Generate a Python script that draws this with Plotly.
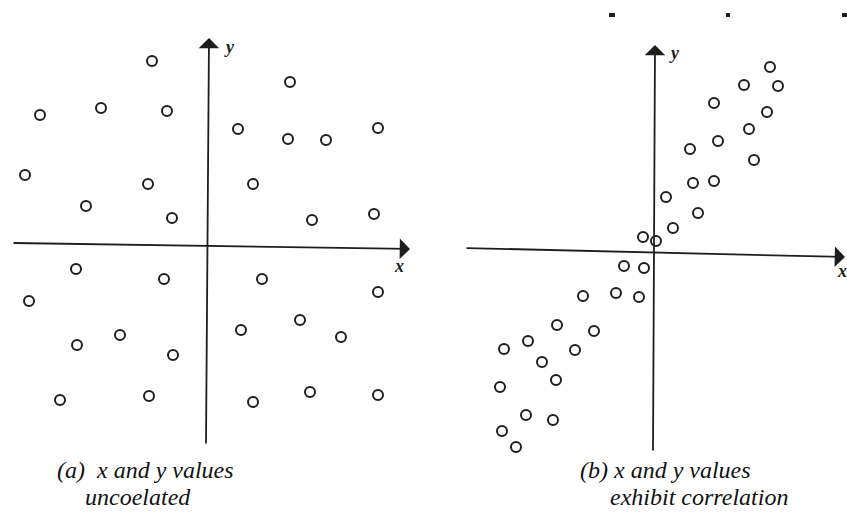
import plotly.graph_objects as go

# (a) uncorrelated x/y values, measured from the axis origin
uncorr_x = [-5.6, -16.8, -10.7, -4.1, 8.2, 3.0, 8.0, 11.8, 17.0, -18.3, -6.0,
            -12.2, -3.6, 4.5, 10.4, 16.6, -13.2, -4.4, -17.9, -13.1, -8.8,
            -3.5, -14.8, -5.9, 5.4, 17.0, 3.3, 9.2, 13.3, 4.5, 10.2, 17.0]
uncorr_y = [18.3, 12.9, 13.6, 13.3, 16.2, 11.5, 10.5, 10.4, 11.6, 6.9, 6.0,
            3.8, 2.6, 6.0, 2.4, 3.0, -2.5, -3.5, -5.7, -10.1, -9.1,
            -11.1, -15.6, -15.2, -3.5, -4.8, -8.6, -7.6, -9.3, -15.8, -14.8, -15.1]

# (b) correlated x/y values
corr_x = [11.5, 8.9, 12.3, 5.9, 11.2, 9.4, 6.3, 3.5, 9.9, 3.8, 5.9, 1.1, 4.3,
          1.8, -1.2, 0.1, -3.1, -1.1, -7.2, -3.9, -1.6, -9.8, -6.1, -12.7,
          -15.1, -8.0, -11.3, -9.9, -15.5, -12.9, -10.2, -15.3, -13.9]
corr_y = [18.4, 16.6, 16.5, 14.8, 13.9, 12.2, 11.0, 10.2, 9.1, 6.8, 7.0, 5.4,
          3.8, 2.3, 1.4, 1.0, -1.5, -1.7, -4.5, -4.2, -4.6, -7.4, -8.0, -9.0,
          -9.8, -9.9, -11.1, -12.9, -13.6, -16.4, -16.9, -18.0, -19.6]

captions = [["(a)  x and y values", "uncoelated"],
            ["(b) x and y values", "exhibit correlation"]]

INK = "#1e1e1e"
SERIF = "Liberation Serif, Times New Roman, serif"

fig = go.Figure()

marker = dict(symbol="circle", size=10, color="white",
              line=dict(color=INK, width=2))

fig.add_trace(go.Scatter(x=uncorr_x, y=uncorr_y, mode="markers",
                         marker=marker, xaxis="x", yaxis="y",
                         showlegend=False, hoverinfo="x+y"))
fig.add_trace(go.Scatter(x=corr_x, y=corr_y, mode="markers",
                         marker=marker, xaxis="x2", yaxis="y2",
                         showlegend=False, hoverinfo="x+y"))

hidden = dict(showgrid=False, zeroline=False, showticklabels=False,
              ticks="", showline=False, fixedrange=True)

fig.update_layout(
    width=847, height=512,
    margin=dict(l=0, r=0, t=0, b=0),
    paper_bgcolor="white", plot_bgcolor="rgba(0,0,0,0)",
    xaxis=dict(domain=[0, 0.5], range=[-20.8, 21.55], **hidden),
    yaxis=dict(domain=[0, 1], range=[-26.8, 24.4], **hidden),
    xaxis2=dict(domain=[0.5, 1], range=[-23.15, 19.2], **hidden),
    yaxis2=dict(domain=[0, 1], range=[-26.1, 25.1], anchor="x2", **hidden),
)

annotations = []


def axis_arrow(xr, yr, tail, tip):
    """Hand-drawn style axis line ending in a filled arrowhead."""
    annotations.append(dict(
        xref=xr, yref=yr, axref=xr, ayref=yr,
        x=tip[0], y=tip[1], ax=tail[0], ay=tail[1],
        text="", showarrow=True, arrowhead=1, arrowsize=1.9,
        arrowwidth=1.8, arrowcolor=INK, standoff=0,
    ))


# panel (a) axes
axis_arrow("x", "y", (-19.6, 0.1), (20.2, -0.5))
axis_arrow("x", "y", (-0.2, -20.1), (0.1, 20.6))
# panel (b) axes
axis_arrow("x2", "y2", (-19.0, 0.3), (19.0, -0.6))
axis_arrow("x2", "y2", (-0.2, -20.1), (0.0, 20.6))

label_font = dict(family=SERIF, size=18, color=INK)
for xr, yr, pos_x, pos_y in [("x", "y", (19.1, -2.2), (2.1, 19.7)),
                             ("x2", "y2", (18.7, -2.0), (1.9, 19.8))]:
    annotations.append(dict(xref=xr, yref=yr, x=pos_x[0], y=pos_x[1],
                            text="<b><i>x</i></b>", showarrow=False,
                            font=label_font))
    annotations.append(dict(xref=xr, yref=yr, x=pos_y[0], y=pos_y[1],
                            text="<b><i>y</i></b>", showarrow=False,
                            font=label_font))

cap_font = dict(family=SERIF, size=24, color="#111")
# caption lines, placed in figure pixels converted to paper fractions
cap_pos = [[(55, 470), (83, 497)], [(578, 470), (608, 497)]]
for lines, poss in zip(captions, cap_pos):
    for text, (px, py) in zip(lines, poss):
        annotations.append(dict(xref="paper", yref="paper",
                                x=px / 847, y=1 - py / 512,
                                xanchor="left", yanchor="middle",
                                text=f"<i>{text}</i>", showarrow=False,
                                font=cap_font))

fig.update_layout(annotations=annotations)

# small dark specks along the top edge of the scan
for x0, w in [(609, 6), (726, 4), (842, 5)]:
    fig.add_shape(type="rect", xref="paper", yref="paper",
                  x0=x0 / 847, x1=(x0 + w) / 847,
                  y0=1 - 17 / 512, y1=1 - 13 / 512,
                  fillcolor=INK, line=dict(width=0), layer="above")

fig.write_html("out.html")
